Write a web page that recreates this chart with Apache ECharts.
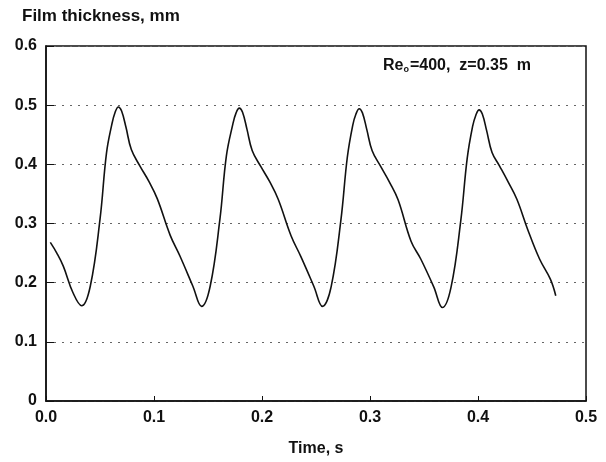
<!DOCTYPE html>
<html><head><meta charset="utf-8">
<script src="https://cdn.jsdelivr.net/npm/echarts@6/dist/echarts.min.js"></script>
<style>html,body{margin:0;padding:0;background:#fff}#c{width:606px;height:462px}</style>
</head><body><div id="c"></div>
<script>
const timeS = [0.004,0.010,0.016,0.025,0.033,0.041,0.050,0.056,0.061,0.064,0.067,0.070,0.074,0.079,0.087,0.095,0.103,0.115,0.124,0.136,0.144,0.152,0.161,0.167,0.173,0.176,0.179,0.182,0.186,0.191,0.199,0.207,0.215,0.227,0.236,0.248,0.256,0.264,0.273,0.279,0.284,0.287,0.290,0.293,0.297,0.302,0.310,0.318,0.326,0.338,0.347,0.359,0.367,0.375,0.384,0.390,0.395,0.398,0.401,0.404,0.408,0.413,0.420,0.428,0.436,0.446,0.457,0.467,0.472];
const thickness = [0.268,0.250,0.228,0.183,0.161,0.194,0.307,0.419,0.468,0.488,0.497,0.490,0.463,0.425,0.397,0.372,0.342,0.280,0.245,0.194,0.160,0.194,0.307,0.414,0.468,0.487,0.495,0.488,0.460,0.423,0.396,0.371,0.341,0.279,0.244,0.194,0.160,0.193,0.305,0.412,0.466,0.485,0.494,0.487,0.459,0.423,0.396,0.370,0.340,0.270,0.240,0.193,0.158,0.192,0.304,0.410,0.464,0.483,0.492,0.485,0.457,0.420,0.397,0.370,0.341,0.290,0.240,0.206,0.178];
const xTicks = ['0.0','0.1','0.2','0.3','0.4','0.5'];
const yTicks = ['0','0.1','0.2','0.3','0.4','0.5','0.6'];

const data = timeS.map((t,i)=>[t, thickness[i]]);
const font = 'Liberation Sans, Arial, sans-serif';
const chart = echarts.init(document.getElementById('c'), null, {renderer:'canvas'});
chart.setOption({
  animation:false,
  backgroundColor:'#fff',
  grid:{left:46,right:20,top:46,bottom:60,show:true,borderColor:'#111',borderWidth:1.5},
  xAxis:{type:'value',min:0,max:0.5,interval:0.1,
    name:'Time, s',nameLocation:'middle',nameGap:40,
    nameTextStyle:{color:'#111',fontSize:16,fontFamily:font,fontWeight:'bold'},
    axisLine:{show:true,lineStyle:{color:'#111',width:1.5}},
    axisTick:{show:true,inside:true,length:5,lineStyle:{color:'#111'}},
    splitLine:{show:false},
    axisLabel:{color:'#111',fontSize:16,fontFamily:font,fontWeight:'bold',margin:9,
      formatter:(v)=>xTicks[Math.round(v*10)]}},
  yAxis:{type:'value',min:0,max:0.6,interval:0.1,
    axisLine:{show:true,lineStyle:{color:'#111',width:1.5}},
    axisTick:{show:true,inside:true,length:8,lineStyle:{color:'#111'}},
    splitLine:{show:true,lineStyle:{color:'#666',type:[2,6],width:1}},
    axisLabel:{color:'#111',fontSize:16,fontFamily:font,fontWeight:'bold',margin:9,
      formatter:(v)=>yTicks[Math.round(v*10)]}},
  graphic:[
    {type:'text',left:22,top:8,style:{text:'Film thickness, mm',fill:'#111',font:'bold 17px '+font}},
    {type:'text',left:383,top:58,style:{
      text:'{a|Re}{s|o}{a|=400,  z=0.35  m}',
      rich:{a:{fill:'#111',font:'bold 16px '+font},s:{fill:'#111',font:'bold 9px '+font,padding:[8,1,0,0]}}}}
  ],
  series:[{type:'line',data:data,smooth:0.4,showSymbol:false,
    lineStyle:{color:'#111',width:1.6}}]
});
</script></body></html>
